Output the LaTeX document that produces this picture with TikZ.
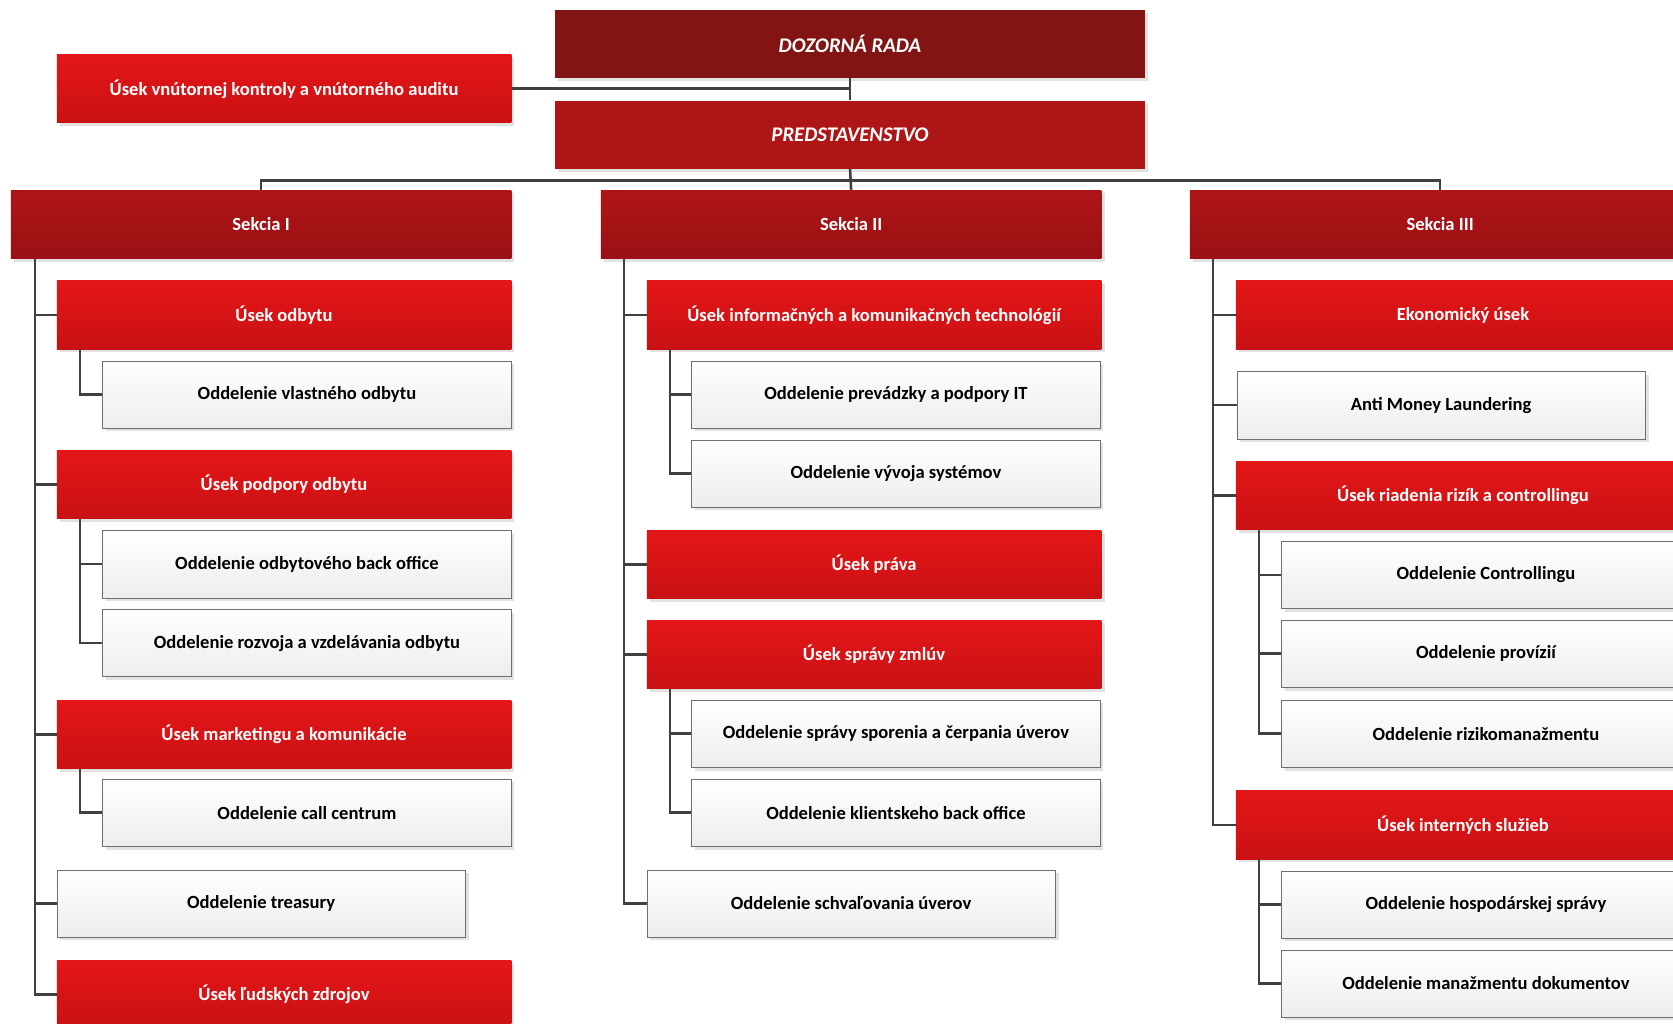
\documentclass[tikz,border=0pt]{standalone}
\usepackage{fontspec}
\setmainfont{Carlito}
\usetikzlibrary{shadows}

\definecolor{radared}{HTML}{831414}
\definecolor{predred}{HTML}{AE1517}
\definecolor{sektop}{HTML}{AE1517}
\definecolor{sekbot}{HTML}{9A1014}
\definecolor{redtop}{HTML}{E41617}
\definecolor{redbot}{HTML}{C91114}
\definecolor{greybot}{HTML}{EDEDED}
\definecolor{greyline}{HTML}{6E6E6E}
\definecolor{connline}{HTML}{404040}
\definecolor{shadowgrey}{HTML}{E2E2E2}

\begin{document}
\begin{tikzpicture}[x=1pt, y=-1pt,
	base/.style={rectangle, anchor=north west, minimum height=64pt, inner sep=0pt, font=\fontsize{17.4}{20}\selectfont\bfseries, drop shadow={shadow xshift=3pt, shadow yshift=-3pt, fill=shadowgrey, opacity=1}},
	topbox/.style={base, minimum width=553pt, text=white, font=\fontsize{19.5}{22}\selectfont\bfseries\itshape},
	sekbox/.style={base, minimum width=469pt, text=white, top color=sektop, bottom color=sekbot},
	redbox/.style={base, minimum width=426pt, text=white, top color=redtop, bottom color=redbot},
	greybox/.style={base, minimum width=383pt, minimum height=63pt, text=black, draw=greyline, thin, top color=white, bottom color=greybot},
	conn/.style={draw=connline, line width=2.4pt}
	]
	\useasboundingbox (0,0) rectangle (1568,959);
	% top
	\node[topbox, fill=radared] (rada) at (520,9) {DOZORNÁ RADA};
	\node[topbox, fill=predred] (pred) at (520,94) {PREDSTAVENSTVO};
	\node[redbox] (audit) at (53,51) {Úsek vnútornej kontroly a vnútorného auditu};
	\node[sekbox] (s1) at (10,178) {Sekcia I};
	\node[sekbox] (s2) at (563,178) {Sekcia II};
	\node[sekbox] (s3) at (1115,178) {Sekcia III};
	% Sekcia I
	\node[redbox] (odbyt) at (53,263) {Úsek odbytu};
	\node[greybox] (vlodbyt) at (96,338) {Oddelenie vlastného odbytu};
	\node[redbox] (podpora) at (53,422) {Úsek podpory odbytu};
	\node[greybox] (backoff) at (96,497) {Oddelenie odbytového back office};
	\node[greybox] (rozvoj) at (96,571) {Oddelenie rozvoja a vzdelávania odbytu};
	\node[redbox] (market) at (53,656) {Úsek marketingu a komunikácie};
	\node[greybox] (call) at (96,730) {Oddelenie call centrum};
	\node[greybox] (treas) at (53,815) {Oddelenie treasury};
	\node[redbox] (ludia) at (53,900) {Úsek ľudských zdrojov};
	% Sekcia II
	\node[redbox] (ikt) at (606,263) {Úsek informačných a komunikačných technológií};
	\node[greybox] (prevadz) at (648,338) {Oddelenie prevádzky a podpory IT};
	\node[greybox] (vyvoj) at (648,412) {Oddelenie vývoja systémov};
	\node[redbox] (pravo) at (606,497) {Úsek práva};
	\node[redbox] (zmluvy) at (606,581) {Úsek správy zmlúv};
	\node[greybox] (sporenie) at (648,656) {Oddelenie správy sporenia a čerpania úverov};
	\node[greybox] (klient) at (648,730) {Oddelenie klientskeho back office};
	\node[greybox] (schval) at (606,815) {Oddelenie schvaľovania úverov};
	% Sekcia III
	\node[redbox] (ekon) at (1158,263) {Ekonomický úsek};
	\node[greybox] (aml) at (1159,348) {Anti Money Laundering};
	\node[redbox] (rizika) at (1158,432) {Úsek riadenia rizík a controllingu};
	\node[greybox] (contr) at (1201,507) {Oddelenie Controllingu};
	\node[greybox] (provizie) at (1201,581) {Oddelenie provízií};
	\node[greybox] (rizman) at (1201,656) {Oddelenie rizikomanažmentu};
	\node[redbox] (intern) at (1158,741) {Úsek interných služieb};
	\node[greybox] (hosp) at (1201,816) {Oddelenie hospodárskej správy};
	\node[greybox] (dokum) at (1201,890) {Oddelenie manažmentu dokumentov};
	% connectors
	\draw[conn] (rada.south) -- (pred.north);
	\draw[conn] (audit.east) -- (audit.east -| rada.south);
	\draw[conn] (s1.north) |- ([yshift=-11pt]pred.south) -| (s3.north);
	\draw[conn] (pred.south) -- (s2.north);
	\foreach \kid in {odbyt, podpora, market, treas, ludia}
		\draw[conn] ([xshift=23pt]s1.south west) |- (\kid.west);
	\foreach \kid in {ikt, pravo, zmluvy, schval}
		\draw[conn] ([xshift=22pt]s2.south west) |- (\kid.west);
	\foreach \kid in {ekon, aml, rizika, intern}
		\draw[conn] ([xshift=22pt]s3.south west) |- (\kid.west);
	\draw[conn] ([xshift=22pt]odbyt.south west) |- (vlodbyt.west);
	\foreach \kid in {backoff, rozvoj}
		\draw[conn] ([xshift=22pt]podpora.south west) |- (\kid.west);
	\draw[conn] ([xshift=22pt]market.south west) |- (call.west);
	\foreach \kid in {prevadz, vyvoj}
		\draw[conn] ([xshift=22pt]ikt.south west) |- (\kid.west);
	\foreach \kid in {sporenie, klient}
		\draw[conn] ([xshift=22pt]zmluvy.south west) |- (\kid.west);
	\foreach \kid in {contr, provizie, rizman}
		\draw[conn] ([xshift=22pt]rizika.south west) |- (\kid.west);
	\foreach \kid in {hosp, dokum}
		\draw[conn] ([xshift=22pt]intern.south west) |- (\kid.west);
\end{tikzpicture}
\end{document}
